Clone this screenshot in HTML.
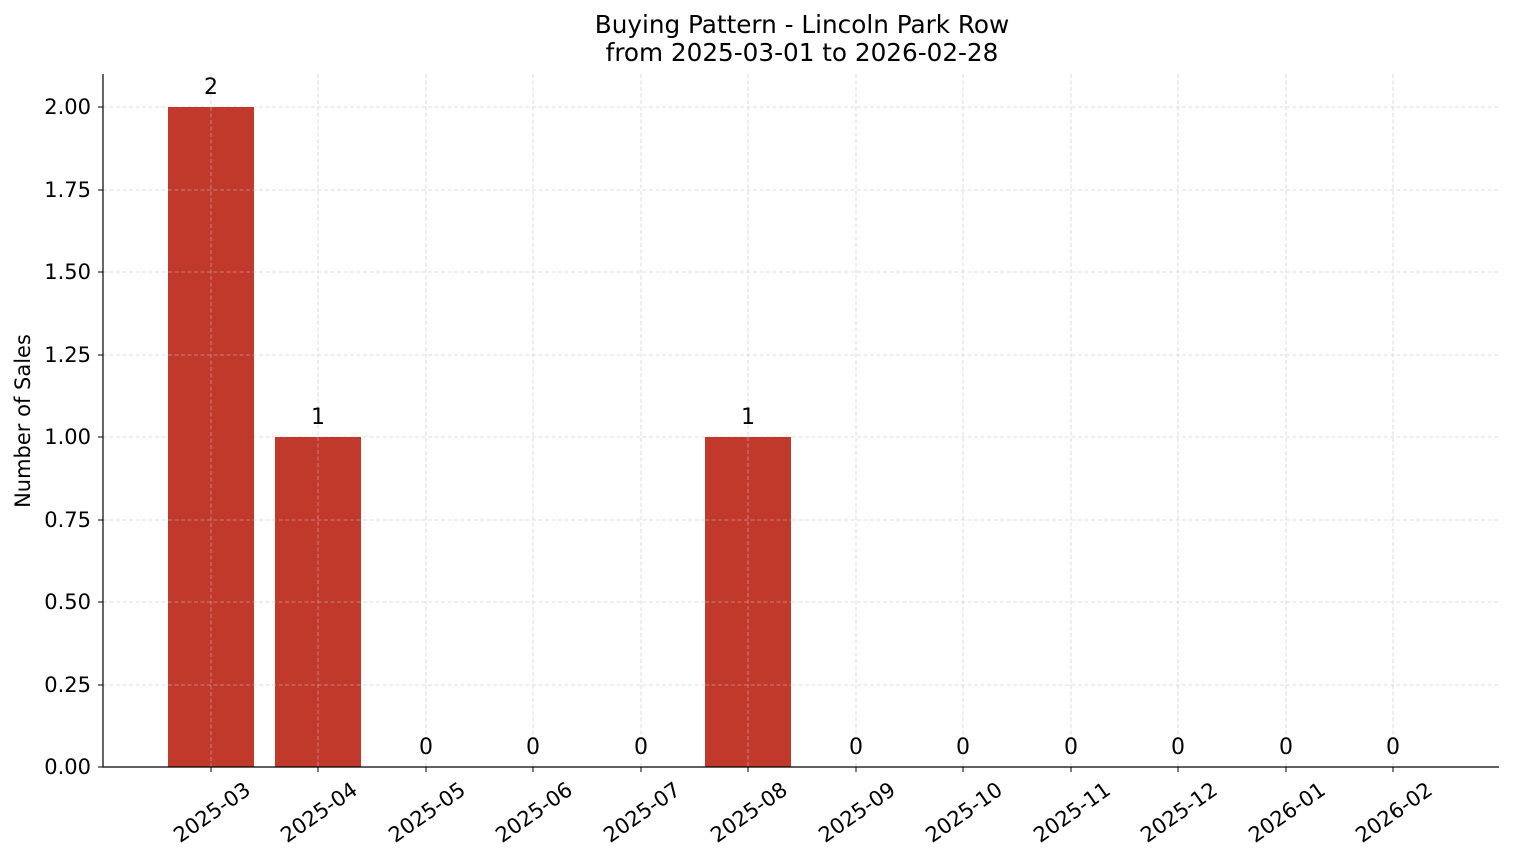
<!DOCTYPE html>
<html><head><meta charset="utf-8"><style>
html,body{margin:0;padding:0;background:#fff;}
svg{display:block;font-family:"DejaVu Sans","Liberation Sans",sans-serif;}
</style></head><body>
<svg width="1514" height="863" viewBox="0 0 1514 863" xmlns="http://www.w3.org/2000/svg">
<rect width="1514" height="863" fill="#fff"/>
<text x="802" y="33" font-size="24.7" text-anchor="middle" fill="#000">Buying Pattern - Lincoln Park Row</text>
<text x="802" y="61" font-size="24.7" text-anchor="middle" fill="#000">from 2025-03-01 to 2026-02-28</text>
<g stroke="#d3d3d3" stroke-width="0.8" stroke-dasharray="4,2.5">
<line x1="103" x2="1499" y1="107" y2="107"/>
<line x1="103" x2="1499" y1="190" y2="190"/>
<line x1="103" x2="1499" y1="272" y2="272"/>
<line x1="103" x2="1499" y1="355" y2="355"/>
<line x1="103" x2="1499" y1="437" y2="437"/>
<line x1="103" x2="1499" y1="520" y2="520"/>
<line x1="103" x2="1499" y1="602" y2="602"/>
<line x1="103" x2="1499" y1="685" y2="685"/>
<line y1="74" y2="767" x1="211" x2="211"/>
<line y1="74" y2="767" x1="318" x2="318"/>
<line y1="74" y2="767" x1="426" x2="426"/>
<line y1="74" y2="767" x1="533" x2="533"/>
<line y1="74" y2="767" x1="641" x2="641"/>
<line y1="74" y2="767" x1="748" x2="748"/>
<line y1="74" y2="767" x1="856" x2="856"/>
<line y1="74" y2="767" x1="963" x2="963"/>
<line y1="74" y2="767" x1="1071" x2="1071"/>
<line y1="74" y2="767" x1="1178" x2="1178"/>
<line y1="74" y2="767" x1="1286" x2="1286"/>
<line y1="74" y2="767" x1="1393" x2="1393"/>
</g>
<g fill="#c0392b">
<rect x="168" y="107" width="86" height="660"/>
<rect x="275" y="437" width="86" height="330"/>
<rect x="705" y="437" width="86" height="330"/>
</g>
<g stroke="#d3d3d3" stroke-width="0.8" stroke-dasharray="4,2.5" opacity="0.6">
<line y1="107" y2="767" x1="211" x2="211"/><line y1="437" y2="767" x1="318" x2="318"/><line y1="437" y2="767" x1="748" x2="748"/>
<line x1="168" x2="361" y1="190" y2="190"/><line x1="168" x2="254" y1="272" y2="272"/><line x1="168" x2="254" y1="355" y2="355"/>
<line x1="168" x2="361" y1="520" y2="520"/><line x1="168" x2="361" y1="602" y2="602"/><line x1="168" x2="361" y1="685" y2="685"/>
<line x1="705" x2="791" y1="520" y2="520"/><line x1="705" x2="791" y1="602" y2="602"/><line x1="705" x2="791" y1="685" y2="685"/>
</g>
<g font-size="22" text-anchor="middle" fill="#000">
<text x="211" y="94">2</text><text x="318" y="424">1</text><text x="426" y="754">0</text><text x="533" y="754">0</text>
<text x="641" y="754">0</text><text x="748" y="424">1</text><text x="856" y="754">0</text><text x="963" y="754">0</text>
<text x="1071" y="754">0</text><text x="1178" y="754">0</text><text x="1286" y="754">0</text><text x="1393" y="754">0</text>
</g>
<g stroke="#000" stroke-width="1.2">
<line x1="103" y1="74" x2="103" y2="767.5"/>
<line x1="102.5" y1="767" x2="1499" y2="767"/>
</g>
<g stroke="#000" stroke-width="1">
<line x1="98" x2="103" y1="107" y2="107"/><line x1="98" x2="103" y1="190" y2="190"/><line x1="98" x2="103" y1="272" y2="272"/>
<line x1="98" x2="103" y1="355" y2="355"/><line x1="98" x2="103" y1="437" y2="437"/><line x1="98" x2="103" y1="520" y2="520"/>
<line x1="98" x2="103" y1="602" y2="602"/><line x1="98" x2="103" y1="685" y2="685"/><line x1="98" x2="103" y1="767" y2="767"/>
<line y1="767" y2="772" x1="211" x2="211"/><line y1="767" y2="772" x1="318" x2="318"/><line y1="767" y2="772" x1="426" x2="426"/>
<line y1="767" y2="772" x1="533" x2="533"/><line y1="767" y2="772" x1="641" x2="641"/><line y1="767" y2="772" x1="748" x2="748"/>
<line y1="767" y2="772" x1="856" x2="856"/><line y1="767" y2="772" x1="963" x2="963"/><line y1="767" y2="772" x1="1071" x2="1071"/>
<line y1="767" y2="772" x1="1178" x2="1178"/><line y1="767" y2="772" x1="1286" x2="1286"/><line y1="767" y2="772" x1="1393" x2="1393"/>
</g>
<g font-size="21" text-anchor="end" fill="#000">
<text x="91" y="114">2.00</text><text x="91" y="197">1.75</text><text x="91" y="279">1.50</text>
<text x="91" y="362">1.25</text><text x="91" y="444">1.00</text><text x="91" y="527">0.75</text>
<text x="91" y="609">0.50</text><text x="91" y="692">0.25</text><text x="91" y="774">0.00</text>
</g>
<text transform="translate(30,421) rotate(-90)" font-size="21" text-anchor="middle">Number of Sales</text>
<g font-size="21" text-anchor="end" fill="#000">
<text transform="translate(252,793) rotate(-35)">2025-03</text>
<text transform="translate(359,793) rotate(-35)">2025-04</text>
<text transform="translate(467,793) rotate(-35)">2025-05</text>
<text transform="translate(574,793) rotate(-35)">2025-06</text>
<text transform="translate(682,793) rotate(-35)">2025-07</text>
<text transform="translate(789,793) rotate(-35)">2025-08</text>
<text transform="translate(897,793) rotate(-35)">2025-09</text>
<text transform="translate(1004,793) rotate(-35)">2025-10</text>
<text transform="translate(1112,793) rotate(-35)">2025-11</text>
<text transform="translate(1219,793) rotate(-35)">2025-12</text>
<text transform="translate(1327,793) rotate(-35)">2026-01</text>
<text transform="translate(1434,793) rotate(-35)">2026-02</text>
</g>
</svg>
</body></html>
